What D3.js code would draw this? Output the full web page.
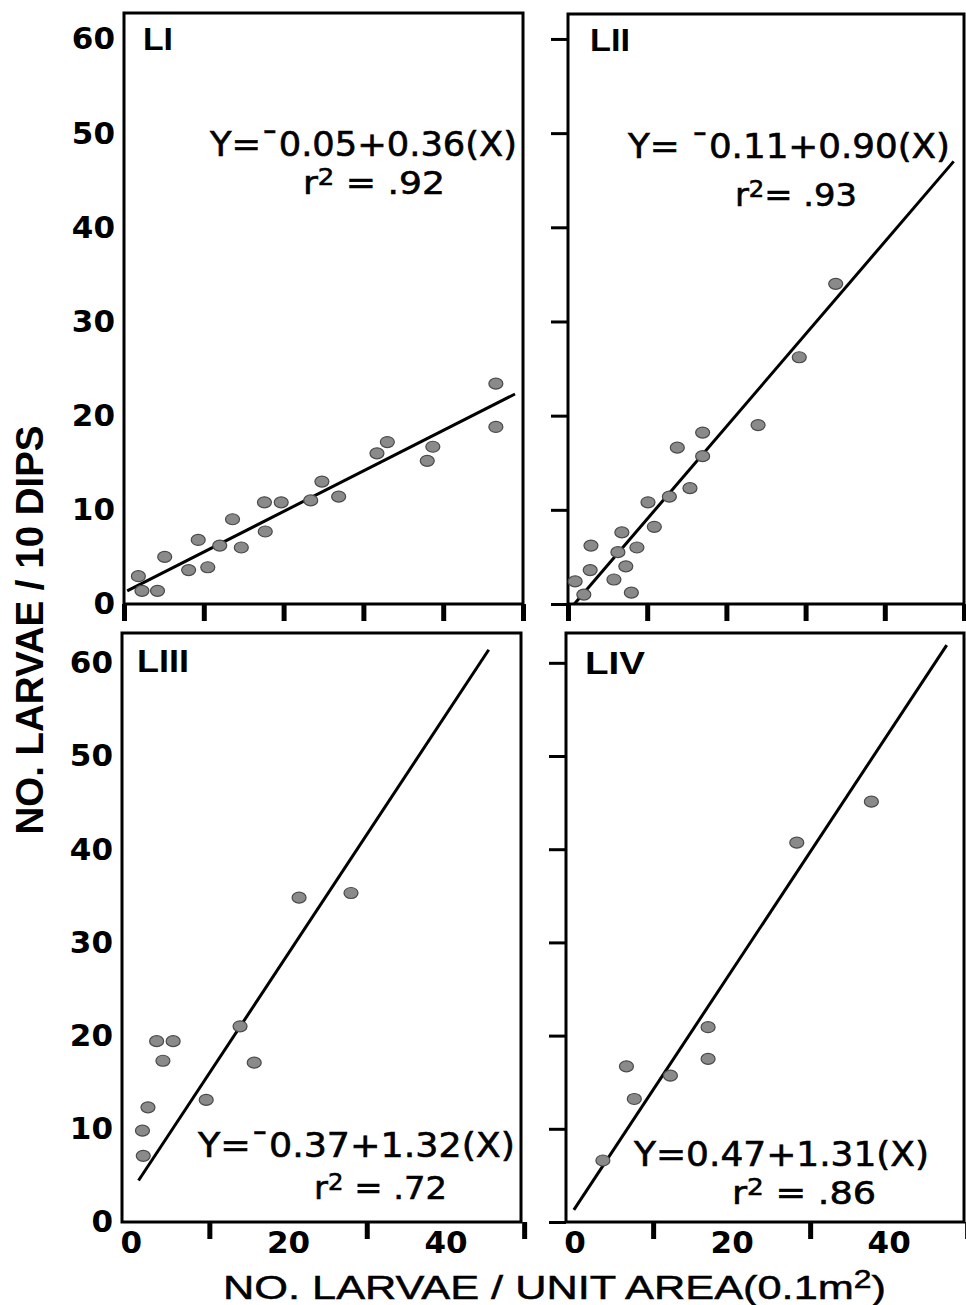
<!DOCTYPE html>
<html>
<head>
<meta charset="utf-8">
<script src="https://cdn.jsdelivr.net/npm/d3@7"></script>
<style>
  body { margin: 0; background: #fff; }
  svg { display: block; }
</style>
</head>
<body>
<svg id="chart"></svg>
<script>
// Axis ticks
const yTicks = [0, 10, 20, 30, 40, 50, 60];
const xTicksTop = [0, 10, 20, 30, 40, 50];
const xLabelsBottom = [0, 20, 40];
const xMarksBottom = [10, 30, 50];

// Points per panel [x, y]
const pointsLI = [[1.8, 2.95], [2.25, 1.4], [4.2, 1.4], [5.1, 5.0], [8.1, 3.6], [9.3, 6.8], [10.5, 3.9],
  [12.0, 6.2], [13.6, 9.0], [14.7, 6.0], [17.6, 10.8], [17.7, 7.7], [19.7, 10.8], [23.4, 11.0],
  [24.8, 13.0], [26.9, 11.4], [31.7, 16.0], [33.0, 17.2], [38.0, 15.2], [38.7, 16.7],
  [46.6, 23.4], [46.6, 18.8]];
const pointsLII = [[0.9, 2.4], [2.0, 1.0], [2.8, 3.6], [2.9, 6.2], [5.8, 2.6], [6.3, 5.5], [6.8, 7.6],
  [7.3, 4.0], [8.0, 1.2], [8.7, 6.0], [10.1, 10.8], [10.9, 8.2], [12.8, 11.4], [13.8, 16.6],
  [15.4, 12.3], [17.0, 18.2], [17.0, 15.7], [24.0, 19.0], [29.2, 26.2], [33.8, 34.0]];
const pointsLIII = [[1.6, 7.1], [1.5, 9.8], [2.2, 12.3], [3.3, 19.4], [4.1, 17.3], [5.4, 19.4],
  [9.6, 13.1], [13.9, 21.0], [15.7, 17.1], [21.4, 34.8], [28.0, 35.3]];
const pointsLIV = [[3.6, 6.6], [6.6, 16.7], [7.6, 13.2], [12.2, 15.7], [17.0, 20.9], [17.0, 17.5],
  [28.3, 40.7], [37.8, 45.1]];

// Regression lines, end points
const fitLI = [[0.4, 1.4], [49.0, 22.3]];
const fitLII = [[0.8, 0.0], [48.7, 47.0]];
const fitLIII = [[1.0, 4.45], [45.5, 61.4]];
const fitLIV = [[-0.1, 1.3], [47.4, 61.9]];

// Texts
const panelNames = ["LI", "LII", "LIII", "LIV"];
const equations = ["Y=\u00AF0.05+0.36(X)", "Y= \u00AF0.11+0.90(X)", "Y=\u00AF0.37+1.32(X)", "Y=0.47+1.31(X)"];
const rTexts = [" =  .92", "= .93", " =  .72", " =  .86"];
const yTitle = "NO. LARVAE / 10 DIPS";

const width = 966;
const height = 1305;

const svg = d3.select("#chart")
  .attr("width", width)
  .attr("height", height);

// Panel layout (pixels)
const panels = [
  { pts: pointsLI, fit: fitLI, x: 124, y: 13, w: 399, h: 591, xDom: [0, 50], yDom: [0, 62.76], labels: true, top: true,
    name: [143, 50, 30], eq: [210, 156, 307], r: [303, 194, 142] },
  { pts: pointsLII, fit: fitLII, x: 568, y: 14, w: 396, h: 590, xDom: [0, 50], yDom: [0, 62.65], labels: false, top: true,
    name: [590, 51, 40], eq: [628, 158, 322], r: [735, 206, 122] },
  { pts: pointsLIII, fit: fitLIII, x: 122, y: 633, w: 399, h: 589, xDom: [-1.1, 49.6], yDom: [0, 63.2], labels: true, top: false,
    name: [137, 672, 52], eq: [198, 1157, 317], r: [314, 1199, 133] },
  { pts: pointsLIV, fit: fitLIV, x: 566, y: 633, w: 398, h: 589, xDom: [-1.1, 49.6], yDom: [0, 63.2], labels: false, top: false,
    name: [585, 674, 60], eq: [634, 1166, 295], r: [732, 1204, 144] }
];

const numFont = "'DejaVu Sans', sans-serif";

panels.forEach((p, i) => {
  const g = svg.append("g");
  const xScale = d3.scaleLinear().domain(p.xDom).range([p.x, p.x + p.w]);
  const yScale = d3.scaleLinear().domain(p.yDom).range([p.y + p.h, p.y]);

  // Y axis: labels on the left panels, tick marks on the right ones
  const yAxis = p.labels
    ? d3.axisLeft(yScale).tickValues(yTicks).tickSize(0).tickPadding(9)
    : d3.axisLeft(yScale).tickValues(yTicks).tickSize(17).tickFormat("");
  const gy = g.append("g")
    .attr("transform", `translate(${p.x}, 0)`)
    .call(yAxis);
  gy.select(".domain").remove();
  gy.selectAll("line").attr("stroke", "#000").attr("stroke-width", 3);
  gy.selectAll("text")
    .attr("fill", "#000")
    .style("font-family", numFont)
    .style("font-weight", "bold")
    .style("font-size", "31px");

  // X axis
  const xAxis = d3.axisBottom(xScale)
    .tickValues(p.top ? xTicksTop : xMarksBottom)
    .tickSize(17)
    .tickFormat("");
  const gx = g.append("g")
    .attr("transform", `translate(0, ${p.y + p.h})`)
    .call(xAxis);
  gx.select(".domain").remove();
  gx.selectAll("line").attr("stroke", "#000").attr("stroke-width", 5);

  if (!p.top) {
    const gxl = g.append("g")
      .attr("transform", `translate(0, ${p.y + p.h})`)
      .call(d3.axisBottom(xScale).tickValues(xLabelsBottom).tickSize(0).tickPadding(9));
    gxl.select(".domain").remove();
    gxl.selectAll("text")
      .attr("fill", "#000")
      .style("font-family", numFont)
      .style("font-weight", "bold")
      .style("font-size", "31px");
  }

  // Frame
  g.append("rect")
    .attr("x", p.x)
    .attr("y", p.y)
    .attr("width", p.w)
    .attr("height", p.h)
    .attr("fill", "none")
    .attr("stroke", "#000")
    .attr("stroke-width", 3);

  // Regression line
  const line = d3.line().x(d => xScale(d[0])).y(d => yScale(d[1]));
  g.append("path")
    .datum(p.fit)
    .attr("d", line)
    .attr("fill", "none")
    .attr("stroke", "#000")
    .attr("stroke-width", 3);

  // Points
  g.selectAll("ellipse")
    .data(p.pts)
    .enter()
    .append("ellipse")
    .attr("cx", d => xScale(d[0]))
    .attr("cy", d => yScale(d[1]))
    .attr("rx", 7)
    .attr("ry", 5.5)
    .attr("fill", "#8a8a8a")
    .attr("stroke", "#4a4a4a")
    .attr("stroke-width", 1.2);

  // Panel name
  g.append("text")
    .attr("x", p.name[0])
    .attr("y", p.name[1])
    .attr("textLength", p.name[2])
    .attr("lengthAdjust", "spacingAndGlyphs")
    .style("font-family", "'Liberation Sans', sans-serif")
    .style("font-weight", "bold")
    .style("font-size", "32px")
    .text(panelNames[i]);

  // Equation and r2
  g.append("text")
    .attr("x", p.eq[0])
    .attr("y", p.eq[1])
    .attr("textLength", p.eq[2])
    .attr("lengthAdjust", "spacingAndGlyphs")
    .attr("stroke", "#000")
    .attr("stroke-width", 0.6)
    .style("font-family", numFont)
    .style("font-size", "33px")
    .text(equations[i]);

  const rt = g.append("text")
    .attr("x", p.r[0])
    .attr("y", p.r[1])
    .attr("textLength", p.r[2])
    .attr("lengthAdjust", "spacingAndGlyphs")
    .attr("stroke", "#000")
    .attr("stroke-width", 0.6)
    .style("font-family", numFont)
    .style("font-size", "32px");
  rt.append("tspan").text("r");
  rt.append("tspan").attr("dy", -9).style("font-size", "23px").text("2");
  rt.append("tspan").attr("dy", 9).text(rTexts[i]);
});

// Axis titles
svg.append("text")
  .attr("transform", "translate(43, 630) rotate(-90)")
  .attr("text-anchor", "middle")
  .attr("textLength", 409)
  .attr("lengthAdjust", "spacingAndGlyphs")
  .style("font-family", "'Liberation Sans', sans-serif")
  .style("font-weight", "bold")
  .style("font-size", "39px")
  .text(yTitle);

const xt = svg.append("text")
  .attr("x", 223)
  .attr("y", 1299)
  .attr("textLength", 663)
  .attr("lengthAdjust", "spacingAndGlyphs")
  .attr("stroke", "#000")
  .attr("stroke-width", 0.5)
  .style("font-family", "'Liberation Sans', sans-serif")
  .style("font-size", "34px");
xt.append("tspan").text("NO. LARVAE / UNIT AREA(0.1m");
xt.append("tspan").attr("dy", -11).style("font-size", "25px").text("2");
xt.append("tspan").attr("dy", 11).text(")");
</script>
</body>
</html>
